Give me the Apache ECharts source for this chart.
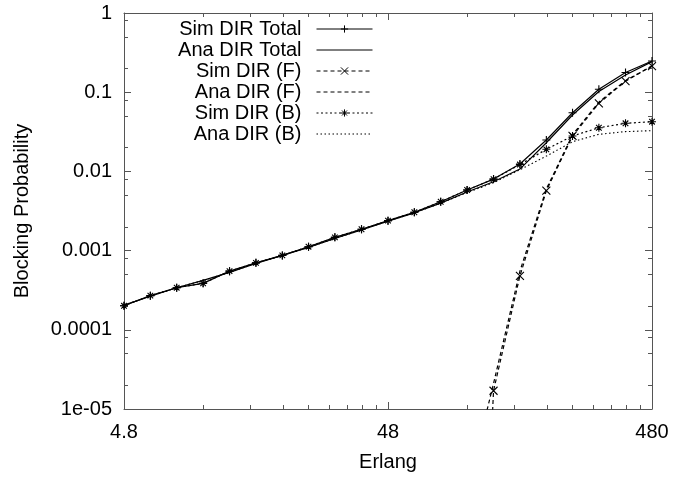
<!DOCTYPE html>
<html>
<head>
<meta charset="utf-8">
<script src="https://cdn.jsdelivr.net/npm/echarts@6/dist/echarts.min.js"></script>
<style>
    html, body { margin: 0; padding: 0; background: #fff; }
    #chart { width: 690px; height: 478px; }
</style>
</head>
<body>
<div id="chart"></div>
<script>
// Offered load (Erlang), one point every tenth of a decade
const erlang = [4.8, 6.04, 7.6, 9.57, 12.05, 15.17, 19.1, 24.0, 30.2, 38.1, 48,
    60.4, 76.0, 95.7, 120.5, 151.7, 191.0, 240.0, 302.0, 381.0, 480];

const simTotal = [2.01e-4, 2.7e-4, 3.4e-4, 3.86e-4, 5.5e-4, 7.0e-4, 8.7e-4, 1.12e-3, 1.47e-3, 1.86e-3, 2.39e-3,
    3.05e-3, 4.14e-3, 5.82e-3, 8.0e-3, 0.0124, 0.0249, 0.055, 0.109, 0.177, 0.248];
const anaTotal = [2.05e-4, 2.65e-4, 3.4e-4, 4.2e-4, 5.3e-4, 6.9e-4, 8.7e-4, 1.1e-3, 1.42e-3, 1.83e-3, 2.36e-3,
    3.0e-3, 3.98e-3, 5.5e-3, 7.4e-3, 0.0107, 0.023, 0.0515, 0.102, 0.165, 0.243];
const simF = [null, null, null, null, null, null, null, null, null, null, null,
    null, null, 1e-12, 1.7e-5, 4.8e-4, 5.7e-3, 0.028, 0.0724, 0.138, 0.214];
const anaF = [null, null, null, null, null, null, null, null, null, null, null,
    null, null, 9e-7, 2.1e-5, 5.5e-4, 6.0e-3, 0.029, 0.075, 0.14, 0.214];
const simB = [2.01e-4, 2.7e-4, 3.4e-4, 3.86e-4, 5.5e-4, 7.0e-4, 8.7e-4, 1.12e-3, 1.47e-3, 1.86e-3, 2.39e-3,
    3.05e-3, 4.14e-3, 5.82e-3, 8.0e-3, 0.0122, 0.019, 0.028, 0.0356, 0.0405, 0.0424];
const anaB = [2.05e-4, 2.65e-4, 3.4e-4, 4.2e-4, 5.3e-4, 6.9e-4, 8.7e-4, 1.1e-3, 1.42e-3, 1.83e-3, 2.36e-3,
    3.0e-3, 3.98e-3, 5.4e-3, 7.2e-3, 0.0105, 0.0156, 0.0237, 0.0294, 0.0318, 0.0327];

const xTicks = [4.8, 48, 480];
const xTickLabels = ["4.8", "48", "480"];
const yTicks = [1e-5, 1e-4, 1e-3, 1e-2, 1e-1, 1];
const yTickLabels = ["1e-05", "0.0001", "0.001", "0.01", "0.1", "1"];
const xMinorSteps = [2, 3, 4, 5, 6, 7, 8, 9];
const yMinorSteps = [2, 5, 8];

const font = "'Liberation Sans', Arial, Helvetica, sans-serif";
const axisColor = "#555";

const xMinor = [];
xTicks.slice(0, -1).forEach(base => xMinorSteps.forEach(s => xMinor.push(base * s)));
const yMinor = [];
yTicks.slice(0, -1).forEach(base => yMinorSteps.forEach(s => yMinor.push(base * s)));

const plus = "path://M5,0L5,10M0,5L10,5";
const cross = "path://M0,0L10,10M0,10L10,0";
const star = "path://M5,0L5,10M0,5L10,5M1.5,1.5L8.5,8.5M1.5,8.5L8.5,1.5";

function pairs(values) {
    return erlang.map((x, i) => [x, values[i]]).filter(p => p[1] !== null);
}

function xAxisDef(position, values, length, withLine, withLabels) {
    return {
        type: "log",
        logBase: 10,
        min: 4.8,
        max: 480,
        position: position,
        splitLine: { show: false },
        axisLine: { show: withLine, lineStyle: { color: axisColor, width: 1 } },
        axisTick: {
            show: true,
            inside: true,
            length: length,
            customValues: values,
            lineStyle: { color: axisColor, width: 1 }
        },
        axisLabel: withLabels ? {
            show: true,
            customValues: xTicks,
            margin: 13,
            fontSize: 20,
            fontFamily: font,
            color: "#000",
            formatter: v => xTickLabels[xTicks.findIndex(t => Math.abs(t - v) / t < 1e-6)]
        } : { show: false }
    };
}

function yAxisDef(position, values, length, withLine, withLabels) {
    return {
        type: "log",
        logBase: 10,
        min: 1e-5,
        max: 1,
        position: position,
        splitLine: { show: false },
        axisLine: { show: withLine, lineStyle: { color: axisColor, width: 1 } },
        axisTick: {
            show: true,
            inside: true,
            length: length,
            customValues: values,
            lineStyle: { color: axisColor, width: 1 }
        },
        axisLabel: withLabels ? {
            show: true,
            customValues: yTicks,
            margin: 12,
            fontSize: 20,
            fontFamily: font,
            color: "#000",
            formatter: v => yTickLabels[yTicks.findIndex(t => Math.abs(t - v) / t < 1e-6)]
        } : { show: false }
    };
}

const xAxes = [
    xAxisDef("bottom", xTicks, 7, true, true),
    xAxisDef("bottom", xMinor, 4, false, false),
    xAxisDef("top", xTicks, 7, true, false),
    xAxisDef("top", xMinor, 4, false, false)
];
xAxes[0].name = "Erlang";
xAxes[0].nameLocation = "middle";
xAxes[0].nameGap = 43;
xAxes[0].nameTextStyle = { fontSize: 20, fontFamily: font, color: "#000" };

const yAxes = [
    yAxisDef("left", yTicks, 7, true, true),
    yAxisDef("left", yMinor, 4, false, false),
    yAxisDef("right", yTicks, 7, true, false),
    yAxisDef("right", yMinor, 4, false, false)
];
yAxes[0].name = "Blocking Probability";
yAxes[0].nameLocation = "middle";
yAxes[0].nameGap = 92;
yAxes[0].nameTextStyle = { fontSize: 20, fontFamily: font, color: "#000" };

const seriesDefs = [
    { name: "Sim DIR Total", values: simTotal, symbol: plus, type: "solid", width: 1.2 },
    { name: "Ana DIR Total", values: anaTotal, symbol: "none", type: "solid", width: 1.2 },
    { name: "Sim DIR (F)", values: simF, symbol: cross, type: [4, 3], width: 1.2 },
    { name: "Ana DIR (F)", values: anaF, symbol: "none", type: [4, 3], width: 1.2 },
    { name: "Sim DIR (B)", values: simB, symbol: star, type: [2, 2.5], width: 1.2 },
    { name: "Ana DIR (B)", values: anaB, symbol: "none", type: [1.5, 2.5], width: 1.1 }
];

const legendRows = [29, 50, 71, 92, 113, 134];

const chart = echarts.init(document.getElementById("chart"));

chart.setOption({
    animation: false,
    backgroundColor: "#fff",
    grid: { left: 124, right: 38, top: 13, bottom: 69, containLabel: false },
    xAxis: xAxes,
    yAxis: yAxes,
    legend: seriesDefs.map((s, i) => ({
        data: [s.name],
        orient: "vertical",
        align: "right",
        right: 317,
        top: legendRows[i] - 10,
        padding: 0,
        itemWidth: 56,
        itemHeight: 9,
        selectedMode: false,
        lineStyle: { width: 1 },
        itemStyle: { borderWidth: 1 },
        textStyle: {
            fontSize: 20,
            fontFamily: font,
            color: "#000",
            lineHeight: 20,
            padding: [0, 10, 0, 0]
        }
    })),
    series: seriesDefs.map(s => {
        const marked = s.symbol !== "none";
        return {
            name: s.name,
            type: "line",
            xAxisIndex: 0,
            yAxisIndex: 0,
            data: pairs(s.values),
            symbol: s.symbol,
            symbolSize: 8,
            showSymbol: marked,
            clip: true,
            itemStyle: marked
                ? { color: "none", borderColor: "#000", borderWidth: 1.1 }
                : { color: "none", borderColor: "none", borderWidth: 0 },
            lineStyle: { color: "#000", width: s.width, type: s.type },
            emphasis: { disabled: true }
        };
    })
});
</script>
</body>
</html>
